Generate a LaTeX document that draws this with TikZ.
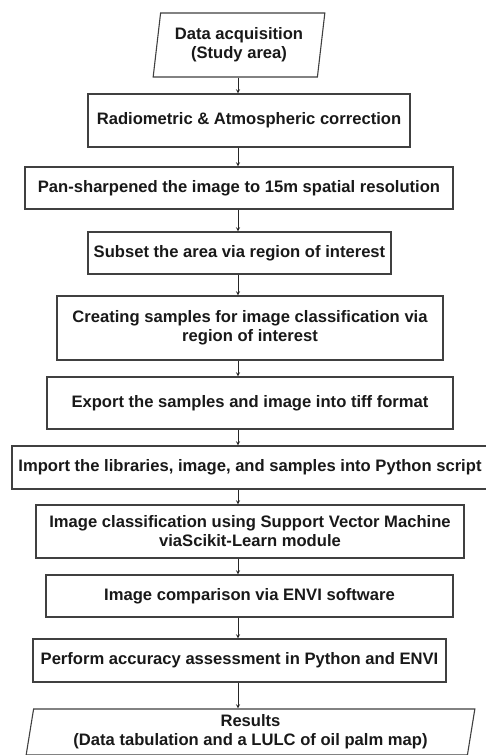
\documentclass[tikz,border=0pt]{standalone}
\usepackage{fontspec}
\setmainfont{Liberation Sans}
\usetikzlibrary{shapes.geometric}

\tikzset{
  box/.style={draw=black!75, line width=1.1pt, fill=white, text=black!90,
    font=\bfseries\fontsize{16.6}{19}\selectfont, align=center, inner sep=0pt},
  para/.style={box, trapezium, trapezium left angle=80, trapezium right angle=100,
    trapezium stretches=true},
  arr/.style={line width=0.9pt, black!85, -stealth}
}

\begin{document}
\begin{tikzpicture}[x=1pt,y=-1pt]
  \useasboundingbox (0,0) rectangle (486,755);
  \fill[white] (0,0) rectangle (486,755);
  \coordinate (ax) at (238,0);

  \node[para, minimum width=172pt, minimum height=64pt] (acq) at (239,45) {Data acquisition\\(Study area)};
  \node[box, minimum width=322pt, minimum height=53pt] (rad) at (249,120.5) {Radiometric \& Atmospheric correction};
  \node[box, minimum width=428pt, minimum height=42pt] (pan) at (239,188) {Pan-sharpened the image to 15m spatial resolution};
  \node[box, minimum width=303pt, minimum height=42pt] (sub) at (239.5,253) {Subset the area via region of interest};
  \node[box, minimum width=386pt, minimum height=64pt] (smp) at (250,328) {Creating samples for image classification via\\region of interest};
  \node[box, minimum width=406pt, minimum height=52pt] (exp) at (250,403) {Export the samples and image into tiff format};
  \node[box, minimum width=476pt, minimum height=43pt] (imp) at (250,467.5) {Import the libraries, image, and samples into Python script};
  \node[box, minimum width=428pt, minimum height=53pt] (svm) at (250,531.5) {Image classification using Support Vector Machine\\viaScikit-Learn module};
  \node[box, minimum width=407pt, minimum height=42pt] (cmp) at (249.5,596) {Image comparison via ENVI software};
  \node[box, minimum width=413pt, minimum height=43pt] (acc) at (239.5,660.5) {Perform accuracy assessment in Python and ENVI};
  \node[para, minimum width=451pt, minimum height=46pt] (res) at (250.5,732) {Results\\(Data tabulation and a LULC of oil palm map)};

  \draw[arr] (acq.south -| ax) -- (rad.north -| ax);
  \draw[arr] (rad.south -| ax) -- (pan.north -| ax);
  \draw[arr] (pan.south -| ax) -- (sub.north -| ax);
  \draw[arr] (sub.south -| ax) -- (smp.north -| ax);
  \draw[arr] (smp.south -| ax) -- (exp.north -| ax);
  \draw[arr] (exp.south -| ax) -- (imp.north -| ax);
  \draw[arr] (imp.south -| ax) -- (svm.north -| ax);
  \draw[arr] (svm.south -| ax) -- (cmp.north -| ax);
  \draw[arr] (cmp.south -| ax) -- (acc.north -| ax);
  \draw[arr] (acc.south -| ax) -- (res.north -| ax);
\end{tikzpicture}
\end{document}
